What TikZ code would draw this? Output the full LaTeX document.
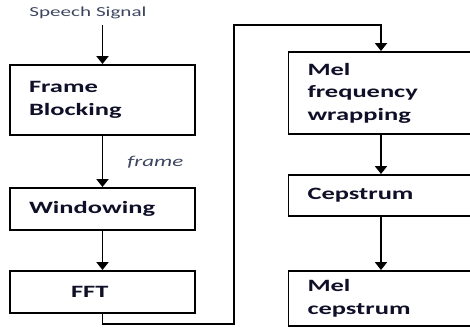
\documentclass[tikz,border=0pt]{standalone}
\usepackage{fontspec}
\setmainfont{Carlito}[FakeStretch=1.53]
\usetikzlibrary{arrows.meta,positioning}
\definecolor{boxtext}{RGB}{15,15,40}
\definecolor{sigtext}{RGB}{60,70,95}
\begin{document}
\begin{tikzpicture}[x=1pt, y=-1pt, line width=1.9pt,
	box/.style={draw, rectangle, minimum width=185pt, inner xsep=19pt, text width=147pt, align=left,
		font=\fontsize{17.3}{22.5}\selectfont\bfseries, text=boxtext},
	lbl/.style={text=sigtext, inner sep=0pt},
	arr/.style={-{Triangle[width=12pt,length=8pt]}}]
	\useasboundingbox (0,0) rectangle (470,329);
	\clip (0,0) rectangle (470,329);
	% left column
	\node[lbl, font=\fontsize{13.8}{16}\selectfont] (sig) at (88,13) {Speech Signal};
	\node[box, minimum height=70pt] (fb) at (102.5,100) {Frame\\Blocking};
	\node[box, minimum height=42pt] (win) at (102.5,209) {Windowing};
	\node[box, minimum height=42pt] (fft) at (102.5,292) {\hspace*{42pt}FFT};
	% right column
	\node[box, minimum height=82pt] (mel) at (381,93) {Mel\\frequency\\wrapping};
	\node[box, minimum height=41pt] (cep) at (381,195.5) {Cepstrum};
	\node[box, minimum height=55pt] (mfcc) at (381,298.5) {Mel\\cepstrum};
	\path
	(102.5,25) coordinate (sigend)
	(234,324) coordinate (lo)
	(234,25) coordinate (hi);
	\draw[arr] (sigend) -- (fb);
	\draw[arr] (fb) -- node[lbl, pos=0.52, right=24pt, font=\fontsize{15}{18}\selectfont\itshape]{frame} (win);
	\draw[arr] (win) -- (fft);
	\draw[arr] (fft) |- (lo) -- (hi) -| (mel);
	\draw[arr] (mel) -- (cep);
	\draw[arr] (cep) -- (mfcc);
\end{tikzpicture}
\end{document}
